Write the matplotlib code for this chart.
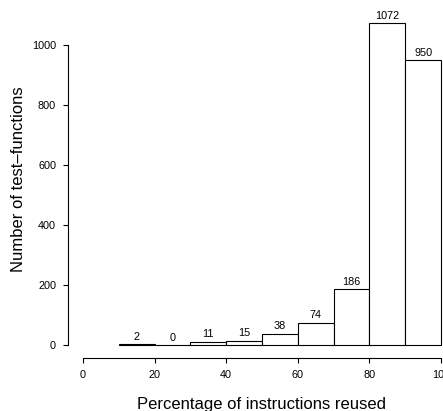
import numpy as np
import matplotlib.pyplot as plt

plt.rcParams['font.family'] = ['Liberation Sans', 'DejaVu Sans']

# histogram bins (percent) and counts
bin_left = [10, 20, 30, 40, 50, 60, 70, 80, 90]
counts = [2, 0, 11, 15, 38, 74, 186, 1072, 950]
xticks = [0, 20, 40, 60, 80, 100]
yticks = [0, 200, 400, 600, 800, 1000]

fig = plt.figure(figsize=(4.43, 4.11), dpi=100)
W, H = 443, 411
ax = fig.add_axes([68 / W, (H - 358) / H, (W - 68) / W, (358 - 10) / H])

ax.bar(bin_left, counts, width=10, align='edge', color='white',
       edgecolor='black', linewidth=0.8)
for x, c in zip(bin_left, counts):
    ax.text(x + 5, c + 8, str(c), ha='center', va='bottom', fontsize=7.8)

ax.set_xlim(-4.19, 100.56)
ax.set_ylim(-43.3, 1116.7)

for s in ['top', 'right']:
    ax.spines[s].set_visible(False)
ax.spines['left'].set_bounds(0, 1000)
ax.spines['bottom'].set_bounds(0, 100)
ax.spines['left'].set_linewidth(0.8)
ax.spines['bottom'].set_linewidth(0.8)

ax.set_xticks(xticks)
ax.set_yticks(yticks)
ax.tick_params(direction='out', length=3.6, width=0.8, labelsize=7.8)
ax.tick_params(axis='x', pad=5)
ax.tick_params(axis='y', pad=5)

ax.set_xlabel('Percentage of instructions reused', fontsize=12, labelpad=12)
ax.xaxis.label.set_x(0.515)
ax.set_ylabel('Number of test–functions', fontsize=12, labelpad=4)
ax.yaxis.label.set_y(0.514)

fig.savefig('out.png', dpi=100)
